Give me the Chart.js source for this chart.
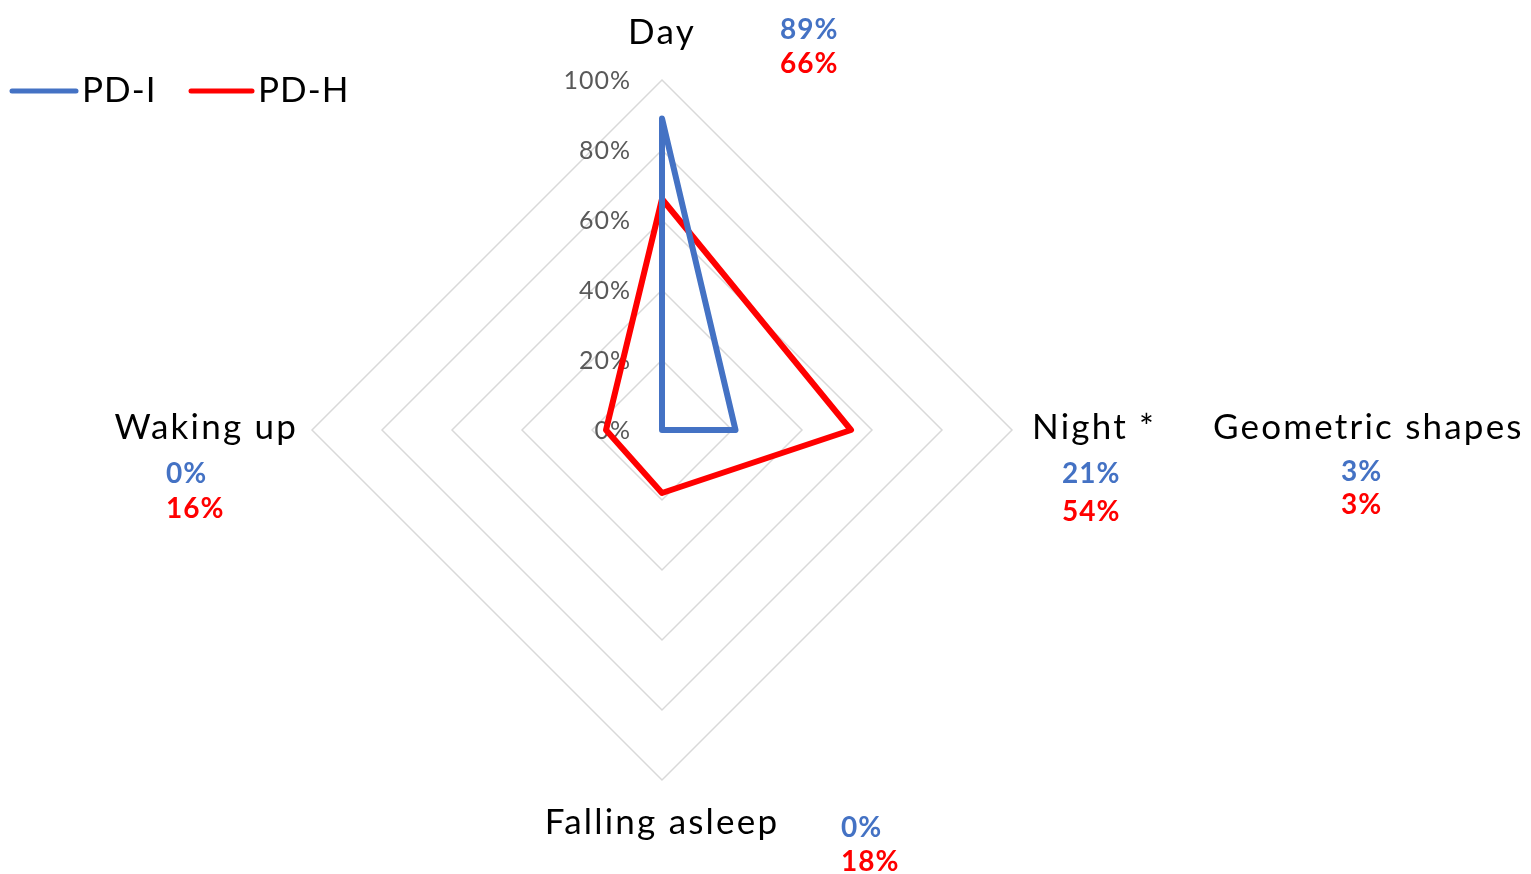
<!DOCTYPE html>
<html>
<head>
<meta charset="utf-8">
<script src="https://cdn.jsdelivr.net/npm/chart.js@4"></script>
<style>
  body { margin: 0; background: #fff; }
</style>
</head>
<body>
<canvas id="radar" width="1531" height="874"></canvas>
<script>
// --- DATA ---
const categories = ['Day', 'Night *', 'Falling asleep', 'Waking up'];
const seriesNames = ['PD-I', 'PD-H'];
const pdI = [89, 21, 0, 0];
const pdH = [66, 54, 18, 16];
// extra category shown only as a text note beside the chart
const extraCategory = 'Geometric shapes';
const extraPdI = 3;
const extraPdH = 3;
const tickValues = [0, 20, 40, 60, 80, 100];

const BLUE = '#4472C4';
const RED = '#FF0000';
const FONT = 'Lato, "Liberation Sans", sans-serif';

// Etykiety (kategorie, wartości, legenda, ticki) rysowane ręcznie
const labelsPlugin = {
    id: 'labels',
    beforeDatasetsDraw(chart) {
        const s = chart.scales.r;
        const c = chart.ctx;
        c.save();
        c.font = '25px ' + FONT;
        c.letterSpacing = '1px';
        c.fillStyle = '#595959';
        c.textAlign = 'right';
        c.textBaseline = 'middle';
        tickValues.forEach(v => {
            const d = s.getDistanceFromCenterForValue(v);
            c.fillText(v + '%', s.xCenter - 31, s.yCenter - d + 1);
        });
        c.restore();
    },
    afterDraw(chart) {
        const s = chart.scales.r;
        const c = chart.ctx;
        const R = s.drawingArea;
        const cx = s.xCenter, cy = s.yCenter;
        c.save();
        c.textBaseline = 'middle';

        // nazwy kategorii
        c.font = '35px ' + FONT;
        c.letterSpacing = '2.2px';
        c.fillStyle = '#000';
        const catPos = [
            { x: cx, y: cy - R - 47, align: 'center' },
            { x: cx + R + 20, y: cy - 2, align: 'left' },
            { x: cx, y: cy + R + 43, align: 'center' },
            { x: cx - R - 14, y: cy - 2, align: 'right' }
        ];
        categories.forEach((name, i) => {
            c.textAlign = catPos[i].align;
            c.fillText(name, catPos[i].x, catPos[i].y);
        });
        c.textAlign = 'left';
        c.fillText(extraCategory, cx + R + 201, cy - 2);

        // wartości procentowe
        c.font = 'bold 28px ' + FONT;
        c.letterSpacing = '1px';
        c.textAlign = 'left';
        const valPos = [
            { x: cx + 118, y1: 30, y2: 64 },
            { x: cx + R + 50, y1: cy + 44, y2: cy + 82 },
            { x: cx + 179, y1: cy + R + 48, y2: cy + R + 82 },
            { x: cx - R - 146, y1: cy + 44, y2: cy + 79 }
        ];
        categories.forEach((name, i) => {
            c.fillStyle = BLUE;
            c.fillText(pdI[i] + '%', valPos[i].x, valPos[i].y1);
            c.fillStyle = RED;
            c.fillText(pdH[i] + '%', valPos[i].x, valPos[i].y2);
        });
        c.fillStyle = BLUE;
        c.fillText(extraPdI + '%', cx + R + 329, cy + 42);
        c.fillStyle = RED;
        c.fillText(extraPdH + '%', cx + R + 329, cy + 75);

        // legenda
        const legend = [
            { x1: 12, x2: 76, tx: 82 },
            { x1: 191, x2: 252, tx: 258 }
        ];
        c.font = '35px ' + FONT;
        c.letterSpacing = '1px';
        c.lineWidth = 5;
        c.lineCap = 'round';
        chart.data.datasets.forEach((ds, i) => {
            c.strokeStyle = ds.borderColor;
            c.beginPath();
            c.moveTo(legend[i].x1, 91);
            c.lineTo(legend[i].x2, 91);
            c.stroke();
            c.fillStyle = '#000';
            c.fillText(ds.label, legend[i].tx, 91);
        });
        c.restore();
    }
};

const ctx = document.getElementById('radar').getContext('2d');
new Chart(ctx, {
    type: 'radar',
    data: {
        labels: categories,
        datasets: [
            {
                label: seriesNames[0],
                data: pdI,
                borderColor: BLUE,
                borderWidth: 6,
                borderJoinStyle: 'round',
                pointRadius: 0,
                fill: false
            },
            {
                label: seriesNames[1],
                data: pdH,
                borderColor: RED,
                borderWidth: 6,
                borderJoinStyle: 'round',
                pointRadius: 0,
                fill: false
            }
        ]
    },
    options: {
        responsive: false,
        animation: false,
        layout: {
            padding: { left: 312, right: 519, top: 80, bottom: 94 }
        },
        plugins: {
            legend: { display: false },
            tooltip: { enabled: false }
        },
        scales: {
            r: {
                min: 0,
                max: 100,
                ticks: { display: false, stepSize: 20 },
                pointLabels: { display: false },
                angleLines: { display: false },
                grid: { color: '#d9d9d9', lineWidth: 1.5 }
            }
        }
    },
    plugins: [labelsPlugin]
});
</script>
</body>
</html>
